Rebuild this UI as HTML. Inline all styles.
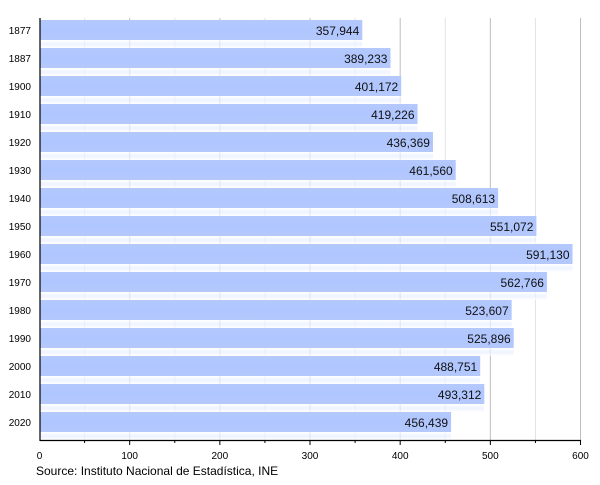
<!DOCTYPE html><html><head><meta charset="utf-8"><style>body{margin:0;background:#fff}</style></head><body>
<svg width="600" height="480" xmlns="http://www.w3.org/2000/svg" font-family="Liberation Sans, sans-serif">
<defs><linearGradient id="g" x1="0" y1="0" x2="0" y2="1"><stop offset="0" stop-color="#b4c8fc"/><stop offset="0.5" stop-color="#b0c6ff"/><stop offset="1" stop-color="#b4c8fc"/></linearGradient>
<linearGradient id="w" x1="0" y1="0" x2="0" y2="1"><stop offset="0" stop-color="#fff"/><stop offset="0.5" stop-color="#e6eeff"/><stop offset="1" stop-color="#fff"/></linearGradient></defs>
<g id="grid"></g>
<g id="bars"></g>
<line x1="40" y1="18" x2="40" y2="441" stroke="#000" stroke-width="1.2"/>
<line x1="40" y1="440.5" x2="581" y2="440.5" stroke="#000" stroke-width="1.2"/>
<text x="36" y="475" font-size="12" fill="#000">Source: Instituto Nacional de Estadística, INE</text>
</svg>
<script>
var s=document.querySelector('svg'),ns='http://www.w3.org/2000/svg';
function el(t,a,p,txt){var e=document.createElementNS(ns,t);for(var k in a)e.setAttribute(k,a[k]);if(txt)e.textContent=txt;(p||s).appendChild(e);return e;}
var x0=39.5,k=0.9017,G=document.getElementById('grid'),B=document.getElementById('bars');
for(var v=50;v<=600;v+=50){var x=x0+v*k;el('line',{x1:x,y1:18,x2:x,y2:440,stroke:v%100?'#e2e2e2':'#bdbdbd','stroke-width':1},G);
el('line',{x1:x,y1:440,x2:x,y2:v%100?443:445,stroke:'#000'},s);}
for(var v=0;v<=600;v+=100)el('text',{x:x0+v*k,y:459,'font-size':10,'text-anchor':'middle'},s,String(v));
var d=[[1877,357944],[1887,389233],[1900,401172],[1910,419226],[1920,436369],[1930,461560],[1940,508613],[1950,551072],[1960,591130],[1970,562766],[1980,523607],[1990,525896],[2000,488751],[2010,493312],[2020,456439]];
d.forEach(function(r,i){var y=20+i*28,w=r[1]/1000*k+x0-40;
el('rect',{x:40,y:y+20,width:w,height:8,fill:'url(#w)',opacity:0.7},B);
el('rect',{x:40,y:y,width:w,height:20,fill:'url(#g)'},B);
el('text',{x:40+w-3,y:y+15,'font-size':12,'text-anchor':'end',fill:'#111'},B,r[1].toLocaleString('en-US'));
el('text',{x:31,y:y+14,'font-size':10,'text-anchor':'end'},s,String(r[0]));});
</script></body></html>
